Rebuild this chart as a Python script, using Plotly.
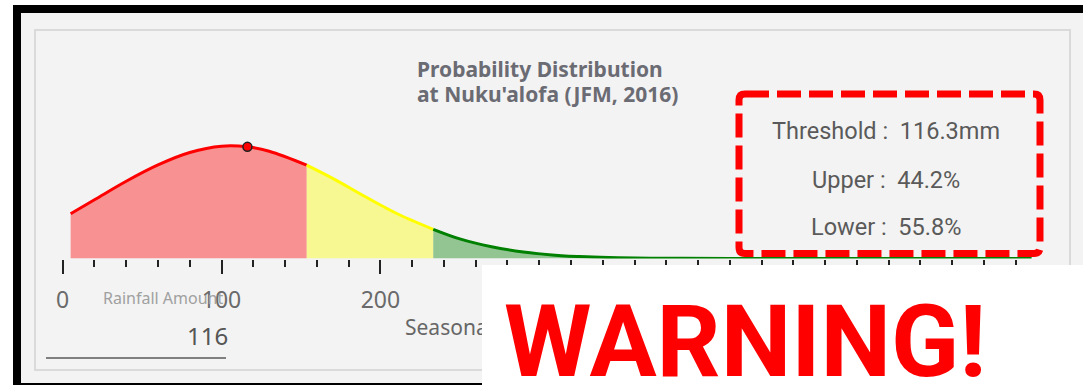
import plotly.graph_objects as go

W, H = 1083, 385

# ---------------- data ----------------
rain_mm = [5, 20, 40, 60, 80, 100, 116.3, 130, 153.6, 170, 190, 210, 233.3,
           250, 270, 290, 310, 330, 350, 370, 390, 420, 460, 500, 550, 610]
density = [2.06, 2.70, 3.55, 4.30, 4.87, 5.16, 5.13, 4.93, 4.29, 3.68, 2.86, 2.08, 1.34,
           0.90, 0.54, 0.30, 0.155, 0.075, 0.034, 0.015, 0.006, 0.002, 0.0005, 0, 0, 0]
tercile_bounds = [153.6, 233.3]
threshold_mm = 116.3
threshold_density = 5.13
tick_values = [0, 100, 200, 300, 400, 500, 600]
tick_labels = ["0", "100", "200", "300", "400", "500", "600"]
stat_labels = ["Threshold", "Upper", "Lower"]
stat_values = ["116.3mm", "44.2%", "55.8%"]
title_lines = ["Probability Distribution", "at Nuku'alofa (JFM, 2016)"]
input_label = "Rainfall Amount"
input_value = "116"
axis_title = "Seasonal Rainfall Amount (mm)"
warning_text = "WARNING!"

seg_line_colors = ["#ff0000", "#ffff00", "#008000"]
seg_fill_colors = ["rgba(255,0,0,0.4)", "rgba(255,255,0,0.4)", "rgba(0,128,0,0.4)"]


def px(x):
    return x / W


def py(y):
    return 1 - y / H


fig = go.Figure()

lo = [min(rain_mm)] + tercile_bounds
hi = tercile_bounds + [max(rain_mm)]
for i in range(3):
    xs = [x for x in rain_mm if lo[i] <= x <= hi[i]]
    ys = [d for x, d in zip(rain_mm, density) if lo[i] <= x <= hi[i]]
    fig.add_trace(go.Scatter(
        x=xs, y=ys, mode="lines",
        line=dict(color=seg_line_colors[i], width=3, shape="spline", smoothing=1),
        fill="tozeroy", fillcolor=seg_fill_colors[i],
        hoverinfo="skip", showlegend=False))

fig.add_trace(go.Scatter(
    x=[threshold_mm], y=[threshold_density], mode="markers",
    marker=dict(size=9, color="#ff0000", line=dict(color="#222222", width=1.5)),
    hoverinfo="skip", showlegend=False))

# axes geometry
x0_px, x600_px = 62.7, 1015.7
ppu = (x600_px - x0_px) / 600.0
x_right_px = 1040
base_px, top_px = 258.5, 130
y_ppu = 112.3 / 5.16

fig.update_xaxes(
    domain=[px(x0_px), px(x_right_px)],
    range=[0, (x_right_px - x0_px) / ppu],
    autorange=False, automargin=False,
    tickmode="array", tickvals=tick_values, ticktext=tick_labels,
    ticks="outside", ticklen=14, tickwidth=2, tickcolor="#222222",
    minor=dict(dtick=20, tick0=0, ticks="outside", ticklen=7, tickwidth=2,
               tickcolor="#222222", showgrid=False),
    showgrid=False, zeroline=False, showline=False,
    tickfont=dict(family="Noto Sans", size=23, color="#6a6a6a"),
    ticklabelstandoff=7,
)
fig.update_yaxes(
    domain=[py(base_px), py(top_px)],
    range=[0, (base_px - top_px) / y_ppu],
    autorange=False, automargin=False,
    visible=False,
)

shapes = []
# black frame and grey panel
shapes.append(dict(type="rect", xref="paper", yref="paper", layer="below",
                   x0=px(13), x1=px(1100), y0=py(5), y1=py(400),
                   fillcolor="#000000", line=dict(width=0)))
shapes.append(dict(type="rect", xref="paper", yref="paper", layer="below",
                   x0=px(21), x1=px(1100), y0=py(13), y1=py(383),
                   fillcolor="#f3f3f3", line=dict(width=0)))
shapes.append(dict(type="rect", xref="paper", yref="paper", layer="below",
                   x0=px(35), x1=px(1070), y0=py(30), y1=py(370),
                   fillcolor="rgba(0,0,0,0)", line=dict(color="#dadada", width=2)))
# input underline
shapes.append(dict(type="line", xref="paper", yref="paper", layer="below",
                   x0=px(46), x1=px(226), y0=py(358), y1=py(358),
                   line=dict(color="#808080", width=2)))

# dashed rounded box
L, T, R, B, r = 739, 94, 1040, 253.5, 6


def P(x, y):
    return f"{px(x):.6f},{py(y):.6f}"


path = (f"M {P(L + r, T)} L {P(R - r, T)} Q {P(R, T)} {P(R, T + r)} "
        f"L {P(R, B - r)} Q {P(R, B)} {P(R - r, B)} "
        f"L {P(L + r, B)} Q {P(L, B)} {P(L, B - r)} "
        f"L {P(L, T + r)} Q {P(L, T)} {P(L + r, T)} Z")
shapes.append(dict(type="path", xref="paper", yref="paper", layer="above", path=path,
                   line=dict(color="#ff0000", width=7, dash="24px,8px")))

annotations = []
title_y = [69, 94]
for t, yy in zip(title_lines, title_y):
    annotations.append(dict(xref="paper", yref="paper", x=px(415), y=py(yy),
                            xanchor="left", yanchor="middle", showarrow=False, text=t,
                            font=dict(family="Noto Sans", size=21, color="#6b6b73", weight="bold")))
stat_y = [131, 180, 227]
for lab, val, yy in zip(stat_labels, stat_values, stat_y):
    annotations.append(dict(xref="paper", yref="paper", x=px(886), y=py(yy),
                            xanchor="center", yanchor="middle", showarrow=False,
                            text=f"{lab} :\u00a0 {val}",
                            font=dict(family="Roboto", size=23.5, color="#5a5a5a")))
annotations.append(dict(xref="paper", yref="paper", x=px(101), y=py(298),
                        xanchor="left", yanchor="middle", showarrow=False,
                        text=input_label, width=125, align="left",
                        font=dict(family="Noto Sans", size=16, color="#a0a0a0")))
annotations.append(dict(xref="paper", yref="paper", x=px(207), y=py(335),
                        xanchor="center", yanchor="middle", showarrow=False,
                        text=input_value,
                        font=dict(family="Noto Sans", size=24, color="#555555")))
annotations.append(dict(xref="paper", yref="paper", x=px(403), y=py(327),
                        xanchor="left", yanchor="middle", showarrow=False,
                        text=axis_title,
                        font=dict(family="Noto Sans", size=21, color="#666666")))
# white warning panel (covers right part of the axis)
annotations.append(dict(xref="paper", yref="paper", x=px(482), y=py(265),
                        xanchor="left", yanchor="top", showarrow=False,
                        text=" ", width=620, height=130, bgcolor="#ffffff",
                        borderpad=0, borderwidth=0))
annotations.append(dict(xref="paper", yref="paper", x=px(745), y=py(341),
                        xanchor="center", yanchor="middle", showarrow=False,
                        text=warning_text,
                        font=dict(family="Roboto", size=100, color="#ff0000", weight="bold")))

fig.update_layout(
    width=W, height=H,
    margin=dict(l=0, r=0, t=0, b=0, pad=0),
    paper_bgcolor="#ffffff", plot_bgcolor="rgba(0,0,0,0)",
    shapes=shapes, annotations=annotations,
    showlegend=False,
)

post = (
    "document.documentElement.style.margin='0';"
    "document.body.style.margin='0';document.body.style.padding='0';"
    "document.body.style.overflow='hidden';"
    "var d=document.getElementById('{plot_id}');"
    "d.style.position='absolute';d.style.left='0px';d.style.top='0px';"
)
fig.write_html("out.html", config={"displayModeBar": False}, post_script=post)
